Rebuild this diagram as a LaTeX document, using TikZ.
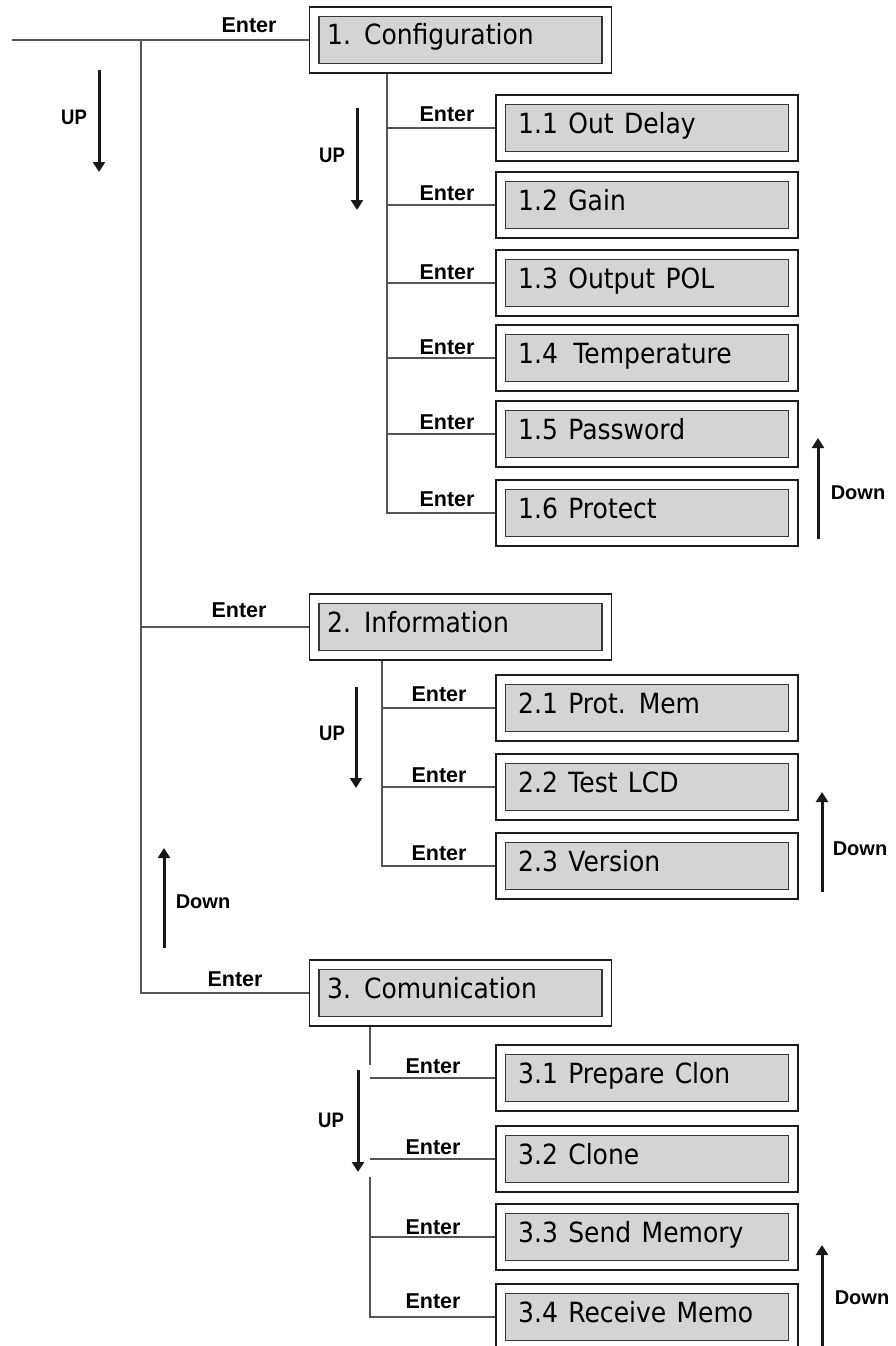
\documentclass[tikz,border=0pt]{standalone}
\usepackage{fontspec}
\setmainfont[FakeStretch=0.9,WordSpace=1.3]{DejaVu Sans}
\newfontfamily\lblfont{Liberation Sans}
\usetikzlibrary{arrows.meta}
\definecolor{boxfill}{RGB}{212,212,212}
\definecolor{outc}{RGB}{30,30,30}
\definecolor{innc}{RGB}{55,55,55}
\definecolor{connc}{RGB}{85,85,85}
\definecolor{arrc}{RGB}{25,25,25}
\tikzset{
  outerbox/.style={draw=outc, line width=1.3pt, fill=white, minimum width=302pt, minimum height=66pt, inner sep=0pt},
  innerbox/.style={draw=innc, fill=boxfill, line width=1.6pt, minimum width=283pt, minimum height=47pt, inner sep=0pt},
  boxtext/.style={anchor=base west, inner sep=0pt, font=\fontsize{27.8}{30}\selectfont},
  lbl/.style={font=\lblfont\bfseries\fontsize{21.5}{24}\selectfont, inner sep=0pt},
  dlbl/.style={font=\lblfont\bfseries\fontsize{20}{24}\selectfont, inner sep=0pt},
  conn/.style={draw=connc, line width=1.3pt},
  navarrow/.style={draw=arrc, line width=3pt, -{Triangle[width=12pt,length=10pt]}}
}
\newcommand\mkmainbox[3]{%
  \node[outerbox] (#1) at (460.5,#2) {};
  \node[innerbox] (#1i) at (#1.center) {};
  \node[boxtext] (#1t) at (327,{#2+5}) {#3};
}
\newcommand\mksubbox[3]{%
  \node[outerbox] (#1) at (647,#2) {};
  \node[innerbox] (#1i) at (#1.center) {};
  \node[boxtext] (#1t) at (518,{#2+5}) {#3};
}
\newcommand\uplabel[2]{\node[dlbl] at (#1) {\fontsize{21}{24}\selectfont\scalebox{0.88}[1]{#2}};}
\begin{document}
\begin{tikzpicture}[x=1pt,y=-1pt]
\clip (0,0) rectangle (895,1346);
\fill[white] (0,0) rectangle (895,1346);

% main boxes
\mkmainbox{m1}{40}{1. Configuration}
\mkmainbox{m2}{627}{2. Information}
\mkmainbox{m3}{993}{3. Comunication}

% section 1 sub boxes
\mksubbox{s11}{128}{1.1 Out Delay}
\mksubbox{s12}{205}{1.2 Gain}
\mksubbox{s13}{283}{1.3 Output POL}
\mksubbox{s14}{358}{1.4\hspace{5pt} Temperature}
\mksubbox{s15}{434}{1.5 Password}
\mksubbox{s16}{513}{1.6 Protect}

% section 2 sub boxes
\mksubbox{s21}{708}{2.1 Prot. Mem}
\mksubbox{s22}{787}{2.2 Test LCD}
\mksubbox{s23}{866}{2.3 Version}

% section 3 sub boxes
\mksubbox{s31}{1078}{3.1 Prepare Clon}
\mksubbox{s32}{1159}{3.2 Clone}
\mksubbox{s33}{1237}{3.3 Send Memory}
\mksubbox{s34}{1317}{3.4 Receive Memo}

% main trunk
\coordinate (start) at (12,40);
\coordinate (t1) at (141,40);
\coordinate (t2) at (141,627);
\coordinate (t3) at (141,993);
\draw[conn] (start) -- (m1.west);
\draw[conn] (t1) -- (t3) -- (m3.west);
\draw[conn] (t2) -- (m2.west);

% section 1 branches
\foreach \n in {1,...,6} {
  \coordinate (a\n) at (387,0 |- s1\n.west);
}
\draw[conn] (387,0 |- m1.south) -- (a6) -- (s16.west);
\foreach \n in {1,...,5} { \draw[conn] (a\n) -- (s1\n.west); }

% section 2 branches
\foreach \n in {1,2,3} {
  \coordinate (b\n) at (382,0 |- s2\n.west);
}
\draw[conn] (382,0 |- m2.south) -- (b3) -- (s23.west);
\foreach \n in {1,2} { \draw[conn] (b\n) -- (s2\n.west); }

% section 3 branches
\foreach \n in {1,2,3,4} {
  \coordinate (c\n) at (370,0 |- s3\n.west);
}
\coordinate (gapA) at (370,1065);
\coordinate (gapB) at (370,1177);
\draw[conn] (370,0 |- m3.south) -- (gapA);
\draw[conn] (gapB) -- (c4) -- (s34.west);
\foreach \n in {1,2,3} { \draw[conn] (c\n) -- (s3\n.west); }

% Enter labels
\node[lbl] (e0) at (249,25) {Enter};
\node[lbl] (e2) at (239,610) {Enter};
\node[lbl] (e3) at (235,979) {Enter};
\foreach \n/\y in {1/114,2/193,3/272,4/347,5/422,6/499} {
  \node[lbl] (e1\n) at (447,\y) {Enter};
}
\foreach \n/\y in {1/694,2/775,3/853} {
  \node[lbl] (e2\n) at (439,\y) {Enter};
}
\foreach \n/\y in {1/1066,2/1147,3/1227,4/1301} {
  \node[lbl] (e3\n) at (433,\y) {Enter};
}

% navigation arrows
\coordinate (ua0) at (99,70);   \coordinate (ub0) at (99,172);
\coordinate (ua1) at (357,108); \coordinate (ub1) at (357,210);
\coordinate (ua2) at (356,687); \coordinate (ub2) at (356,788);
\coordinate (ua3) at (358,1070);\coordinate (ub3) at (358,1172);
\foreach \k in {0,1,2,3} { \draw[navarrow] (ua\k) -- (ub\k); }
\uplabel{74,117}{UP}
\uplabel{332,155}{UP}
\uplabel{332,733}{UP}
\uplabel{331,1120}{UP}

\coordinate (da1) at (818,539); \coordinate (db1) at (818,438);
\coordinate (da2) at (822,892); \coordinate (db2) at (822,792);
\coordinate (da0) at (164,948); \coordinate (db0) at (164,848);
\coordinate (da3) at (822,1346);\coordinate (db3) at (822,1245);
\foreach \k in {0,1,2,3} { \draw[navarrow] (da\k) -- (db\k); }
\node[dlbl] (d1) at (858,493) {Down};
\node[dlbl] (d2) at (860,849) {Down};
\node[dlbl] (d0) at (203,902) {Down};
\node[dlbl] (d3) at (862,1298) {Down};
\end{tikzpicture}
\end{document}
